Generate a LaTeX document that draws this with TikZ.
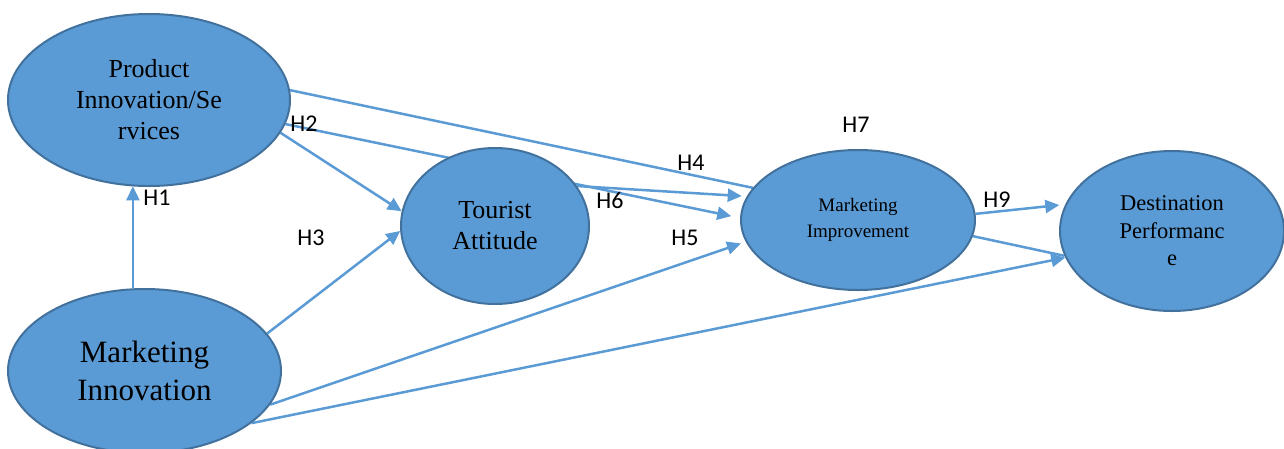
\documentclass[tikz,border=0pt]{standalone}
\usepackage{fontspec}
\setmainfont{Liberation Serif}
\newfontfamily\labelfont{Carlito}
\usetikzlibrary{shapes.geometric,arrows.meta}
\pgfdeclarelayer{bg}
\pgfsetlayers{bg,main}
\definecolor{ovalfill}{HTML}{5B9BD5}
\definecolor{ovaldraw}{HTML}{41719C}
\definecolor{linkcol}{HTML}{5B9BD5}
\begin{document}
\begin{tikzpicture}[x=1pt,y=-1pt,
  oval/.style={ellipse, fill=ovalfill, draw=ovaldraw, line width=2pt, inner sep=0pt, align=center, text=black},
  link/.style={draw=linkcol, line width=2.5pt},
  arr/.style={link, -{Triangle[length=14pt,width=13pt]}},
  hlab/.style={font=\labelfont\fontsize{24}{28}\selectfont, inner sep=0pt, text=black}]
\useasboundingbox (0,0) rectangle (1284,448);
% ovals
\node[oval, minimum width=282pt, minimum height=172pt, font=\fontsize{26}{31}\selectfont] (pi) at (149,100) {Product\\Innovation/Se\\rvices};
\node[oval, minimum width=273pt, minimum height=164pt, font=\fontsize{31}{38}\selectfont] (mi) at (144.5,371) {Marketing\\Innovation};
\node[oval, minimum width=188pt, minimum height=156pt, font=\fontsize{26}{31}\selectfont] (ta) at (495,226) {Tourist\\Attitude};
\node[oval, minimum width=234pt, minimum height=140pt, font=\fontsize{19}{26}\selectfont] (mimp) at (858,220) {Marketing\\Improvement};
\node[oval, minimum width=224pt, minimum height=160pt, font=\fontsize{22.5}{27.5}\selectfont] (dp) at (1172,231) {Destination\\Performanc\\e};
% labels
\node[hlab] (l1) at (157,198) {H1};
\node[hlab] (l2) at (304,124) {H2};
\node[hlab] (l3) at (311,238) {H3};
\node[hlab] (l4) at (691,163) {H4};
\node[hlab] (l5) at (685,238) {H5};
\node[hlab] (l6) at (610,200) {H6};
\node[hlab] (l7) at (856,125) {H7};
\node[hlab] (l9) at (997,200) {H9};
% connectors
\begin{pgfonlayer}{bg}
\draw[arr] (mi.98.7) -- (mi.98.7 |- pi.258.7);
\draw[link] (pi.4.9) -- (mimp.163.7);
\draw[arr, shorten >=9pt] (pi.-10.2) -- (mimp.179);
\draw[arr, shorten >=5pt] (ta.26.6) -- (mimp.168.8);
\draw[arr] (pi.-14.1) -- (ta.171.3);
\draw[arr] (mi.17.2) -- (ta.183.1);
\draw[arr, shorten >=5pt] (mi.-15.2) -- (mimp.191.2);
\draw[arr] (mi.-26.9) -- (dp.194.6);
\draw[arr, shorten >=6pt] (mimp.3.5) -- (dp.166.9);
\draw[link] (mimp.-8.5) -- (dp.193.2);
\end{pgfonlayer}
\end{tikzpicture}
\end{document}
